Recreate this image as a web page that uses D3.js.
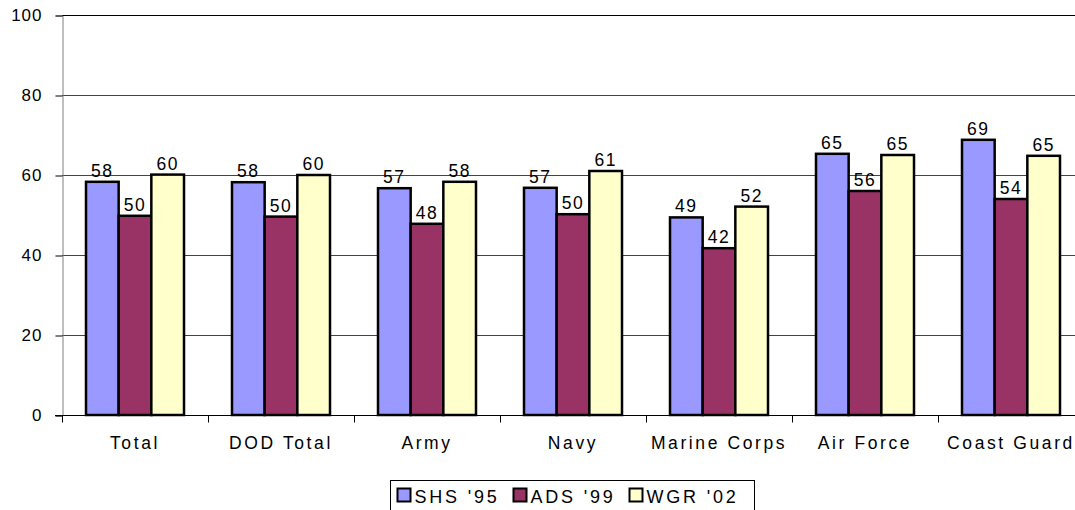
<!DOCTYPE html>
<html lang="en">
    <head>
        <meta charset="utf-8">
        <title>Survey Chart</title>
        <script src="https://d3js.org/d3.v7.min.js"></script>
        <style>
            body { margin: 0; background: #fff; }
            text { font-family: "Liberation Sans", Arial, sans-serif; fill: #000; }
        </style>
    </head>
    <body>
        <div id="dataviz"></div>
        <script>
            var categories = ["Total", "DOD Total", "Army", "Navy", "Marine Corps", "Air Force", "Coast Guard"];
            var seriesNames = ["SHS '95", "ADS '99", "WGR '02"];
            var shs95 = [58.3, 58.2, 56.7, 56.8, 49.4, 65.3, 68.8];
            var ads99 = [49.8, 49.6, 47.8, 50.2, 41.7, 56.0, 54.0];
            var wgr02 = [60.1, 60.0, 58.3, 61.0, 52.1, 65.0, 64.8];
            var colors = ["#9999ff", "#993366", "#ffffcc"];
            var yTicks = [0, 20, 40, 60, 80, 100];

            var width = 1075, height = 510;
            var margin = {top: 15, left: 62, bottom: 95};
            var plotW = 1022;

            var svg = d3.select("#dataviz")
                        .append("svg")
                        .attr("width", width)
                        .attr("height", height);

            var y = d3.scaleLinear().domain([0, 100]).range([415, 15]);
            var x = d3.scaleBand().domain(categories).range([margin.left, margin.left + plotW]);
            var xs = d3.scaleBand().domain(d3.range(3)).range([24, 122]);

            var series = [shs95, ads99, wgr02];
            var rows = [];
            categories.forEach(function(c, i) {
                series.forEach(function(s, j) {
                    rows.push({cat: c, k: j, v: s[i]});
                });
            });

            // gridlines
            svg.append("g")
                .selectAll("line")
                .data(yTicks.slice(1))
                .enter().append("line")
                .attr("x1", margin.left).attr("x2", width)
                .attr("y1", function(d) { return Math.round(y(d)) + 0.5; })
                .attr("y2", function(d) { return Math.round(y(d)) + 0.5; })
                .style("stroke", function(d) { return d == 100 ? "#000" : "#444"; })
                .style("stroke-width", 1);

            // y axis
            var yAxis = svg.append("g")
                .attr("transform", "translate(" + (margin.left + 0.5) + ",0.5)")
                .call(d3.axisLeft(y).tickValues(yTicks).tickSize(7).tickPadding(13));
            yAxis.select(".domain").attr("stroke", "#808080");
            yAxis.selectAll(".tick line").attr("stroke", "#000");
            yAxis.selectAll("text").style("font-size", "17px").style("letter-spacing", "1px");

            // x axis
            var xAxis = svg.append("g")
                .attr("transform", "translate(0," + (Math.round(y(0)) + 0.5) + ")");
            xAxis.append("line")
                .attr("x1", margin.left - 7).attr("x2", width)
                .style("stroke", "#000");
            xAxis.selectAll(".xt")
                .data(d3.range(categories.length + 1))
                .enter().append("line")
                .attr("x1", function(d) { return Math.round(margin.left + d * x.bandwidth()) + 0.5; })
                .attr("x2", function(d) { return Math.round(margin.left + d * x.bandwidth()) + 0.5; })
                .attr("y1", 0).attr("y2", 7)
                .style("stroke", "#000");
            xAxis.selectAll(".xl")
                .data(categories)
                .enter().append("text")
                .attr("x", function(d) { return x(d) + x.bandwidth() / 2; })
                .attr("y", 33)
                .attr("text-anchor", "middle")
                .style("font-size", "17.5px")
                .style("letter-spacing", "2.6px")
                .text(function(d) { return d; });

            // bars
            svg.append("g")
                .selectAll("rect")
                .data(rows)
                .enter().append("rect")
                .attr("x", function(d) { return x(d.cat) + xs(d.k); })
                .attr("y", function(d) { return y(d.v); })
                .attr("width", xs.bandwidth())
                .attr("height", function(d) { return y(0) - y(d.v); })
                .style("fill", function(d) { return colors[d.k]; })
                .style("stroke", "#000")
                .style("stroke-width", 2.5);

            // value labels
            svg.append("g")
                .selectAll("text")
                .data(rows)
                .enter().append("text")
                .attr("x", function(d) { return x(d.cat) + xs(d.k) + xs.bandwidth() / 2; })
                .attr("y", function(d) { return y(d.v) - 5; })
                .attr("text-anchor", "middle")
                .style("font-size", "17.5px")
                .style("letter-spacing", "1.5px")
                .text(function(d) { return d3.format(".0f")(d.v); });

            // legend
            var lg = svg.append("g").attr("transform", "translate(390.5,480.5)");
            lg.append("rect")
                .attr("width", 364).attr("height", 40)
                .style("fill", "#fff").style("stroke", "#000");
            var offs = [7, 123, 239];
            var items = lg.selectAll(".li")
                .data(seriesNames)
                .enter().append("g")
                .attr("transform", function(d, i) { return "translate(" + offs[i] + ",8)"; });
            items.append("rect")
                .attr("width", 13).attr("height", 13)
                .style("fill", function(d, i) { return colors[i]; })
                .style("stroke", "#000").style("stroke-width", 2);
            items.append("text")
                .attr("x", 17).attr("y", 14)
                .style("font-size", "18px")
                .style("letter-spacing", "2.8px")
                .text(function(d) { return d; });
        </script>
    </body>
</html>
